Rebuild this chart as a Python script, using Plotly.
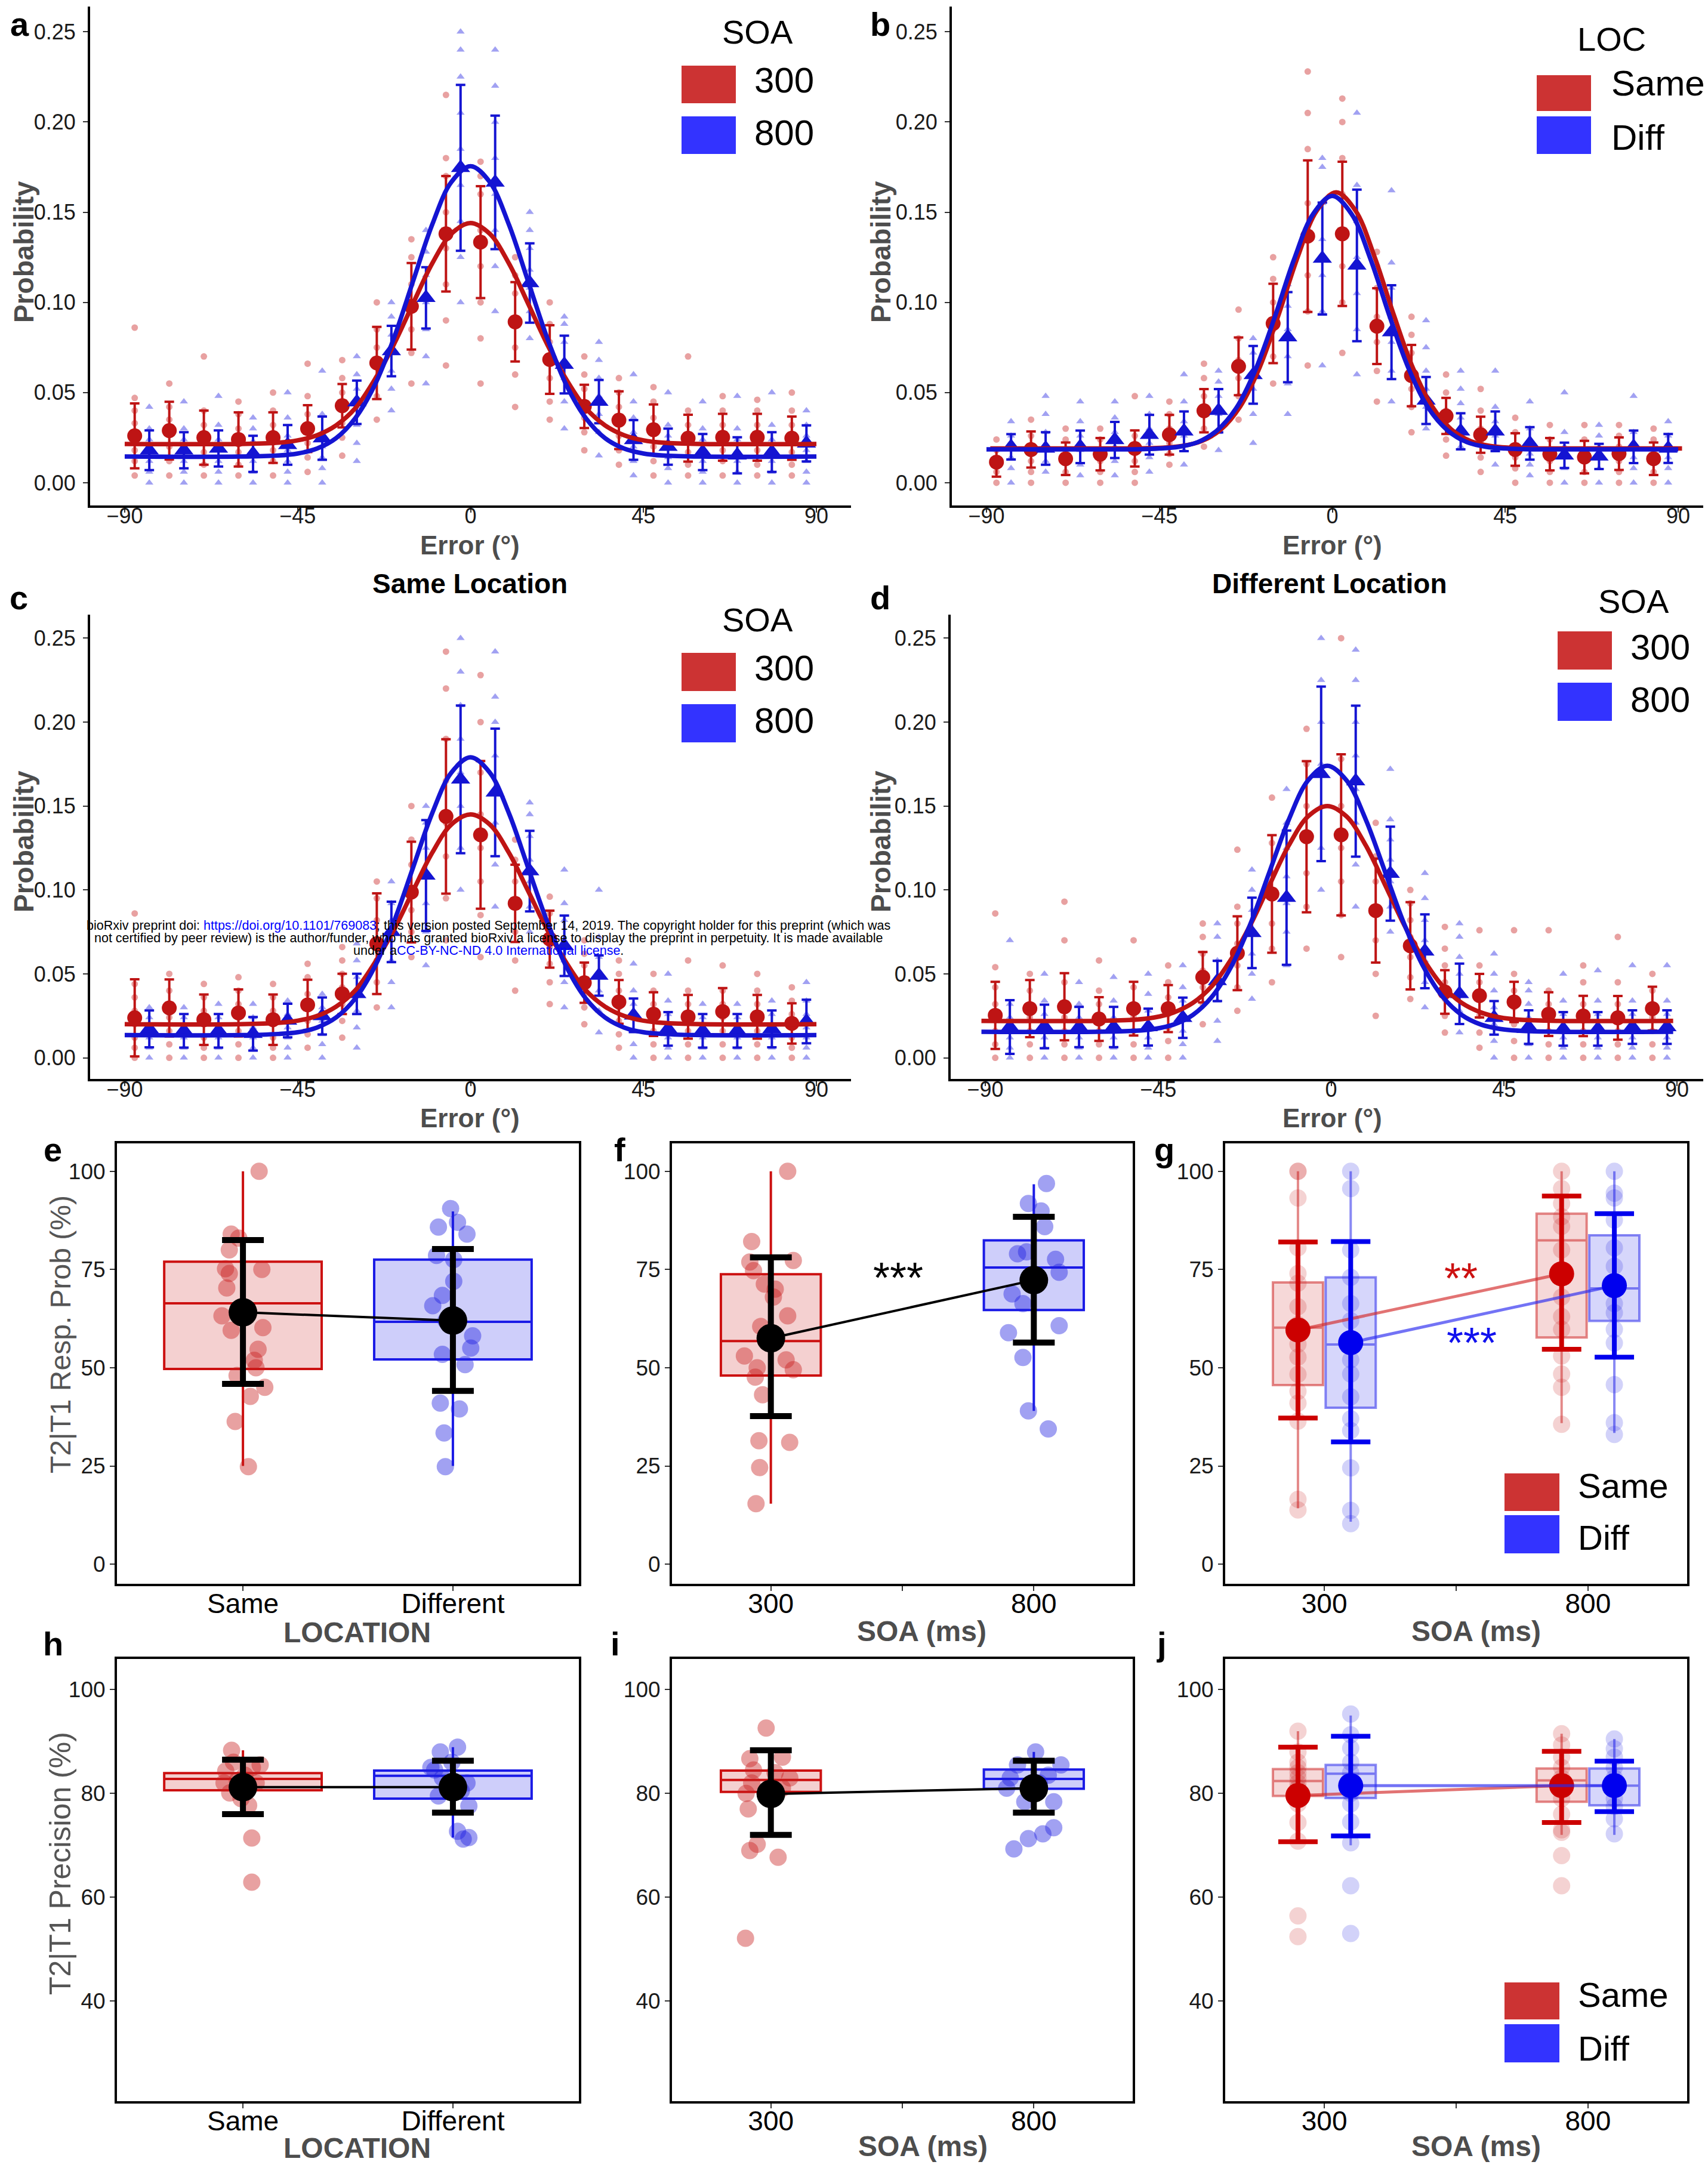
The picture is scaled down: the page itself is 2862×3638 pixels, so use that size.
import plotly.graph_objects as go

W, H = 2862, 3638
FONT = "Liberation Sans, Arial, Helvetica, sans-serif"
NARROW = "Liberation Sans Narrow, Arial Narrow, Liberation Sans, sans-serif"

RED_KEY, BLUE_KEY = "#CC3333", "#3333FF"
RED_LINE, BLUE_LINE = "#BE1414", "#1414D2"
RED_PT, BLUE_PT = "#C81E1E", "#2020E0"
GRAY = "#4D4D4D"

# ====================== panels a-d : error distributions ======================
BIN_CENTERS = [-85.5, -76.5, -67.5, -58.5, -49.5, -40.5, -31.5, -22.5, -13.5, -4.5,
               4.5, 13.5, 22.5, 31.5, 40.5, 49.5, 58.5, 67.5, 76.5, 85.5]
X_TICKS_ERR = [-90, -45, 0, 45, 90]
X_TICKTEXT_ERR = ["−90", "−45", "0", "45", "90"]
Y_TICKS_PROB = [0, 0.05, 0.10, 0.15, 0.20, 0.25]
Y_TICKTEXT_PROB = ["0.00", "0.05", "0.10", "0.15", "0.20", "0.25"]
CURVE_X = [-90, -60, -50, -45, -40, -35, -30, -25, -20, -15, -10, -5, 0,
           5, 10, 15, 20, 25, 30, 35, 40, 45, 50, 60, 90]

A_RED_CURVE = [0.0215, 0.0215, 0.0222, 0.0235, 0.0263, 0.0318, 0.0413, 0.0570, 0.0765, 0.0992, 0.1215, 0.1380, 0.1440,
               0.1380, 0.1215, 0.0992, 0.0765, 0.0570, 0.0413, 0.0318, 0.0263, 0.0235, 0.0222, 0.0215, 0.0215]
A_BLUE_CURVE = [0.0145, 0.0145, 0.0151, 0.0162, 0.0189, 0.0247, 0.0358, 0.0539, 0.0799, 0.1115, 0.1430, 0.1667, 0.1755,
                0.1667, 0.1430, 0.1115, 0.0799, 0.0539, 0.0358, 0.0247, 0.0189, 0.0162, 0.0151, 0.0145, 0.0145]
B_RED_CURVE = [0.0190, 0.0190, 0.0191, 0.0194, 0.0204, 0.0231, 0.0295, 0.0422, 0.0635, 0.0930, 0.1252, 0.1510, 0.1610,
               0.1510, 0.1252, 0.0930, 0.0635, 0.0422, 0.0295, 0.0231, 0.0204, 0.0194, 0.0191, 0.0190, 0.0190]
B_BLUE_CURVE = [0.0185, 0.0185, 0.0186, 0.0190, 0.0199, 0.0225, 0.0290, 0.0414, 0.0626, 0.0917, 0.1236, 0.1490, 0.1590,
                0.1490, 0.1236, 0.0917, 0.0626, 0.0414, 0.0290, 0.0225, 0.0199, 0.0190, 0.0186, 0.0185, 0.0185]
C_RED_CURVE = [0.0200, 0.0200, 0.0208, 0.0221, 0.0249, 0.0305, 0.0402, 0.0564, 0.0760, 0.0993, 0.1221, 0.1390, 0.1450,
               0.1390, 0.1221, 0.0993, 0.0760, 0.0564, 0.0402, 0.0305, 0.0249, 0.0221, 0.0208, 0.0200, 0.0200]
C_BLUE_CURVE = [0.0135, 0.0135, 0.0142, 0.0152, 0.0180, 0.0240, 0.0353, 0.0540, 0.0807, 0.1131, 0.1456, 0.1699, 0.1790,
                0.1699, 0.1456, 0.1131, 0.0807, 0.0540, 0.0353, 0.0240, 0.0180, 0.0152, 0.0142, 0.0135, 0.0135]
D_RED_CURVE = [0.0220, 0.0220, 0.0227, 0.0240, 0.0270, 0.0327, 0.0428, 0.0588, 0.0792, 0.1032, 0.1266, 0.1438, 0.1500,
               0.1438, 0.1266, 0.1032, 0.0792, 0.0588, 0.0428, 0.0327, 0.0270, 0.0240, 0.0227, 0.0220, 0.0220]
D_BLUE_CURVE = [0.0155, 0.0155, 0.0161, 0.0172, 0.0198, 0.0255, 0.0364, 0.0543, 0.0798, 0.1110, 0.1420, 0.1653, 0.1740,
                0.1653, 0.1420, 0.1110, 0.0798, 0.0543, 0.0364, 0.0255, 0.0198, 0.0172, 0.0161, 0.0155, 0.0155]
# location of each fitted curve's peak (degrees)
A_PEAK = [0.0, 0.0]
B_PEAK = [1.0, 0.0]
C_PEAK = [0.0, 0.0]
D_PEAK = [-1.0, -1.0]

A_RED_MEAN = [0.0260, 0.0289, 0.0250, 0.0240, 0.0250, 0.0300, 0.0427, 0.0664, 0.0978, 0.1380,
              0.1334, 0.0892, 0.0683, 0.0423, 0.0347, 0.0294, 0.0247, 0.0252, 0.0252, 0.0247]
A_BLUE_MEAN = [0.0180, 0.0180, 0.0190, 0.0160, 0.0210, 0.0247, 0.0446, 0.0730, 0.1025, 0.1746,
               0.1665, 0.1107, 0.0655, 0.0450, 0.0237, 0.0200, 0.0170, 0.0152, 0.0170, 0.0218]
B_RED_MEAN = [0.0114, 0.0184, 0.0133, 0.0158, 0.0190, 0.0266, 0.0399, 0.0645, 0.0883, 0.1367,
              0.1380, 0.0868, 0.0594, 0.0370, 0.0266, 0.0184, 0.0158, 0.0142, 0.0161, 0.0133]
B_BLUE_MEAN = [0.0199, 0.0190, 0.0199, 0.0237, 0.0266, 0.0285, 0.0399, 0.0598, 0.0807, 0.1243,
               0.1205, 0.0835, 0.0456, 0.0285, 0.0285, 0.0218, 0.0152, 0.0146, 0.0199, 0.0190]
C_RED_MEAN = [0.0238, 0.0297, 0.0227, 0.0267, 0.0227, 0.0315, 0.0381, 0.0680, 0.0987, 0.1438,
              0.1328, 0.0920, 0.0707, 0.0447, 0.0333, 0.0260, 0.0244, 0.0275, 0.0244, 0.0205]
C_BLUE_MEAN = [0.0172, 0.0161, 0.0161, 0.0143, 0.0222, 0.0249, 0.0381, 0.0750, 0.1086, 0.1659,
               0.1581, 0.1112, 0.0667, 0.0490, 0.0253, 0.0172, 0.0161, 0.0161, 0.0172, 0.0216]
D_RED_MEAN = [0.0253, 0.0293, 0.0304, 0.0231, 0.0293, 0.0293, 0.0480, 0.0623, 0.0976, 0.1317,
              0.1328, 0.0877, 0.0667, 0.0392, 0.0370, 0.0333, 0.0260, 0.0249, 0.0238, 0.0293]
D_BLUE_MEAN = [0.0183, 0.0187, 0.0183, 0.0183, 0.0183, 0.0238, 0.0458, 0.0744, 0.0954, 0.1692,
               0.1648, 0.1097, 0.0634, 0.0381, 0.0238, 0.0183, 0.0172, 0.0172, 0.0183, 0.0183]

# error-bar half widths (thousandths)
A_RED_ERR = [18, 16, 15, 15, 14, 13, 12, 20, 24, 32, 31, 22, 19, 12, 16, 14, 13, 13, 13, 12]
A_BLUE_ERR = [11, 10, 10, 10, 11, 12, 12, 14, 17, 46, 37, 22, 16, 12, 11, 10, 10, 10, 11, 10]
B_RED_ERR = [8, 10, 9, 9, 10, 11, 12, 16, 22, 42, 40, 21, 17, 10, 10, 9, 9, 9, 9, 9]
B_BLUE_ERR = [7, 9, 9, 10, 11, 11, 12, 16, 25, 31, 42, 26, 13, 10, 11, 9, 7, 7, 9, 8]
C_RED_ERR = [23, 17, 15, 14, 15, 15, 12, 30, 30, 46, 44, 23, 17, 12, 13, 13, 13, 14, 13, 12]
C_BLUE_ERR = [11, 10, 10, 10, 10, 11, 12, 18, 33, 44, 38, 24, 18, 12, 10, 10, 10, 10, 11, 13]
D_RED_ERR = [20, 17, 20, 13, 16, 14, 15, 22, 35, 45, 48, 31, 26, 13, 13, 12, 13, 12, 13, 13]
D_BLUE_ERR = [16, 13, 12, 12, 11, 12, 12, 21, 40, 52, 45, 28, 22, 18, 10, 10, 10, 10, 10, 10]

# individual-subject probabilities per bin (thousandths)
A_RED_PTS = ["4 12 18 25 33 40 47 86", "4 12 20 28 35 42 55", "4 10 17 25 32 40 70", "4 10 17 24 30 38 45",
             "4 12 18 25 32 40 50", "6 14 22 30 38 48 66", "15 25 33 42 50 58 68", "35 48 58 66 75 85 100",
             "55 72 85 98 110 125 135", "65 90 110 130 150 170 180 215", "55 80 100 120 140 160 170 178",
             "42 60 75 90 105 115 125", "35 45 58 68 78 88 100", "18 28 36 44 52 60 70", "10 18 26 34 42 50 58",
             "4 12 20 28 36 45 53", "4 10 17 24 32 40 70", "4 12 18 25 32 40 48", "4 10 18 25 32 40 46",
             "4 10 17 24 32 40 50"]
A_BLUE_PTS = ["0 6 12 18 24 30 42", "0 6 12 18 24 30 45", "0 6 12 18 24 32 48", "0 6 12 17 23 30 36",
              "0 6 12 18 26 36 50", "0 8 14 20 28 38 62", "12 22 32 42 52 60 70", "40 52 62 72 82 92 100",
              "55 70 85 100 115 128 140", "100 125 145 165 185 205 225 240 250", "95 120 140 160 180 200 220 240",
              "80 95 108 118 130 140 150", "30 45 58 68 78 88 92", "15 28 38 48 58 68 78", "4 12 20 28 36 45 60",
              "0 8 14 20 26 32 50", "0 6 12 18 24 30 45", "0 6 12 18 24 30 48", "0 6 12 18 24 32 50",
              "0 6 12 18 26 32 40"]
B_RED_PTS = ["0 6 12 18 24", "0 6 12 18 26 35", "0 6 12 18 24 30", "0 6 12 18 24 30", "0 6 12 18 26 48",
             "10 16 22 30 38 45", "20 30 38 48 58 66", "35 48 58 68 80 96", "55 70 85 100 113 125",
             "65 95 115 135 155 185 205 228", "72 100 120 140 160 180 200 213", "45 62 78 92 108 120 128",
             "28 42 52 62 72 82 92", "15 24 32 40 50 60", "6 14 22 30 40 52", "0 8 14 20 28 36",
             "0 6 12 18 24 32", "0 6 12 18 24 32", "0 6 12 20 26 32", "0 6 12 18 24 30"]
B_BLUE_PTS = ["0 8 14 20 26 34", "6 12 20 28 38 48", "4 10 18 26 34 45", "4 12 20 28 36 45", "6 14 22 30 38 48",
              "10 18 26 34 45 60", "18 28 38 48 56 62", "22 38 52 62 72 80", "38 55 70 85 98 110",
              "65 95 115 135 155 175 180", "60 85 105 125 145 165 205", "45 62 78 92 108 122 162",
              "30 42 52 62 75 90", "20 28 36 44 52 62", "10 18 26 34 42 62", "4 10 16 22 30 45",
              "0 8 14 20 28 50", "0 8 14 20 26 32", "0 8 14 20 28 48", "0 8 14 20 26 34"]
C_RED_PTS = ["0 6 12 20 28 36 44 86", "0 8 16 24 32 40 50", "0 6 12 20 28 36 44", "0 8 16 24 32 40 48",
             "0 6 12 20 28 36 44", "6 14 22 30 38 48 56", "12 22 32 42 50 58 66", "30 45 58 70 82 95 105",
             "60 75 88 100 115 130 150", "70 95 120 140 165 190 220 242", "60 85 105 125 145 170 200 228",
             "40 58 75 90 105 118 130", "32 45 56 66 76 86 96", "20 30 38 46 55 62 70", "6 14 22 30 40 50 58",
             "0 8 16 24 32 40 50", "0 8 16 24 32 40 58", "0 8 16 24 32 40 55", "0 8 16 24 32 40 50",
             "0 6 12 18 26 34 42"]
C_BLUE_PTS = ["0 6 12 18 24 30", "0 6 12 18 24 30", "0 6 12 18 24 32", "0 6 12 18 24 32", "0 6 12 18 26 34",
              "0 8 14 22 30 38", "6 18 28 38 48 58 68", "30 45 58 70 82 92 105", "55 75 92 108 125 140 150",
              "100 125 150 170 190 210 230 250", "90 115 140 160 180 200 215 242", "75 90 105 118 132 145 152",
              "30 45 58 70 82 92 112", "15 28 40 50 60 72 100", "0 8 16 24 32 40 56", "0 6 12 18 26 34 50",
              "0 6 12 18 24 32", "0 6 12 18 24 32", "0 6 12 18 26 34", "0 6 12 18 26 34 45"]
D_RED_PTS = ["0 8 16 24 32 42 54 86", "0 8 16 24 32 40 50", "0 8 16 24 32 45 70 93", "0 8 16 24 32 40 58",
             "0 8 16 24 32 42 70", "0 10 18 26 36 45 55", "20 32 42 52 62 72 80", "28 42 55 68 80 90 124",
             "45 65 80 95 110 128 155", "65 90 110 130 150 175 196", "60 85 105 125 150 178 250",
             "25 50 70 88 105 120 140", "35 48 60 72 82 92 100", "15 25 35 45 55 65 78", "6 15 25 35 45 55 76",
             "0 10 20 30 40 50 76", "0 8 16 24 32 40 76", "0 8 16 24 32 45 55", "0 8 16 24 32 45 72",
             "0 8 16 24 32 40 50"]
D_BLUE_PTS = ["0 6 12 18 24 32 70", "0 6 12 18 26 34 50", "0 6 12 18 24 32 45", "0 6 12 18 24 34 48",
              "0 6 12 20 28 38 50", "0 8 16 24 34 42 55", "10 22 34 46 58 72 80", "35 50 62 75 88 100 112",
              "55 75 92 108 125 140 160", "100 125 150 175 200 225 250", "90 115 140 160 180 200 225 243",
              "75 90 105 118 130 142 172", "30 45 58 70 82 95 110", "15 28 40 50 60 72 80", "0 10 20 30 40 50 62",
              "0 8 16 24 32 40 45", "0 6 12 18 26 34 50", "0 6 12 18 26 34 52", "0 6 12 18 26 34 55",
              "0 6 12 18 26 34 55"]

# ====================== panels e-j : summary plots ======================
LOC_CATS = ["Same", "Different"]
SOA_LEVELS = [300, 800]
SOA_TICKS = [300, 550, 800]
SOA_TICKTEXT = ["300", "", "800"]

# e : response probability by location
E_Q1, E_MED, E_Q3, E_LO, E_HI = [49.7, 52.1], [66.4, 61.7], [77.0, 77.5], [25.0, 25.0], [100.0, 89.8]
E_MEAN, E_CI_LO, E_CI_HI = [64.1, 62.0], [45.9, 44.1], [82.5, 80.2]
E_SAME_VALS = [100, 84, 83, 80, 75.2, 75, 74, 70.3, 63.2, 60.2, 59.5, 54.7, 51.9, 48, 50, 42.7, 45, 36.3, 24.8]
E_SAME_JIT = [0.077, -0.056, -0.02, -0.065, -0.083, 0.09, -0.065, -0.077, -0.1, 0.095, -0.056, 0.072, 0.054,
              -0.028, 0.062, 0.035, 0.104, -0.037, 0.026]
E_DIFF_VALS = [90.5, 85.8, 84, 87, 78.6, 77.5, 72, 68.4, 65.8, 62, 58.1, 55, 53.4, 50.8, 41, 39.5, 33.4, 24.8]
E_DIFF_JIT = [-0.011, -0.069, 0.067, 0.022, -0.078, 0.004, 0.004, -0.05, -0.096, -0.033, 0.094, 0.085, -0.05,
              0.058, -0.06, 0.031, -0.042, -0.036]

# f : response probability by SOA
F_Q1, F_MED, F_Q3, F_LO, F_HI = [48.0, 64.7], [56.8, 75.5], [73.8, 82.4], [15.4, 39.0], [100.0, 96.7]
F_MEAN, F_CI_LO, F_CI_HI = [57.5, 72.3], [37.7, 56.4], [78.1, 88.4]
F_300_VALS = [100, 82.1, 76.9, 77.3, 74.7, 71.3, 70, 68, 63.2, 60.5, 53, 52, 50, 49.5, 47.6, 43.1, 31.4, 31, 24.6, 15.4]
F_300_JIT = [32, -36.5, -40, 42.7, -33, -12.4, 8.3, 4.8, 32, -19.3, -50.3, 29, -26, 42.7, -29.6, -15.8, -22.7, 35.8,
             -21.3, -28.2]
F_800_VALS = [96.9, 91.8, 89.9, 85.9, 79.0, 79.5, 77.6, 74.3, 68.8, 66.3, 58.9, 60.7, 52.6, 39.0, 34.4]
F_800_JIT = [24, -10.3, 13.8, 20.7, -31, -13.8, 41.3, 48.2, -41.3, -20.7, -48.2, 48.2, -20.7, -10.3, 27.5]

# g : response probability by SOA x location
G_SAME_Q1, G_SAME_MED, G_SAME_Q3 = [45.6, 57.7], [60.2, 82.4], [71.7, 89.2]
G_SAME_LO, G_SAME_HI = [14.2, 35.9], [100.0, 100.0]
G_DIFF_Q1, G_DIFF_MED, G_DIFF_Q3 = [39.8, 61.9], [55.9, 70.2], [73.0, 83.7]
G_DIFF_LO, G_DIFF_HI = [10.8, 33.4], [100.0, 100.0]
G_SAME_MEAN, G_SAME_CI_LO, G_SAME_CI_HI = [59.6, 73.9], [37.2, 54.7], [82.0, 93.7]
G_DIFF_MEAN, G_DIFF_CI_LO, G_DIFF_CI_HI = [56.4, 70.9], [31.1, 52.7], [82.1, 89.2]
G_SAME_300_VALS = [100, 100, 93.2, 80.5, 74, 71.5, 65.5, 61, 56, 52.7, 48.3, 44, 41, 36.4, 16.5, 13.8]
G_DIFF_300_VALS = [100, 95.6, 80, 73, 66.3, 62, 57, 52, 48.4, 42.6, 37, 34, 24.5, 13.7, 10.3]
G_SAME_800_VALS = [100, 95.6, 91.8, 88.4, 86, 80, 74, 68, 63, 59.8, 53, 48.4, 45, 35.6]
G_DIFF_800_VALS = [100, 94.4, 93.2, 87.6, 80.5, 75.8, 70.7, 66.3, 64, 59.8, 56.3, 45.7, 36, 33]

# h : precision by location
H_Q1, H_MED, H_Q3, H_LO, H_HI = [80.6, 79.0], [82.8, 83.4], [83.9, 84.4], [76.5, 71.5], [88.3, 88.9]
H_MEAN, H_CI_LO, H_CI_HI = [81.2, 81.2], [76.0, 76.3], [86.5, 86.3]
H_SAME_VALS = [88.3, 86, 85, 84.3, 83.5, 85.5, 82.5, 80.1, 79, 77.7, 71.4, 62.9, 82, 82]
H_SAME_JIT = [-0.054, -0.045, 0.045, -0.082, 0.009, 0.082, -0.027, -0.063, -0.009, 0.027, 0.042, 0.042, 0.063, -0.09]
H_DIFF_VALS = [88.9, 88, 85, 83, 80.5, 79.5, 77.6, 72.7, 71.5, 71.2, 84.5, 86, 82]
H_DIFF_JIT = [0.022, -0.06, -0.105, -0.05, 0.04, -0.069, 0.076, 0.022, 0.076, 0.049, -0.087, -0.005, 0.067]

# i : precision by SOA
I_Q1, I_MED, I_Q3, I_LO, I_HI = [80.3, 80.9], [82.6, 82.8], [84.4, 84.6], [77.0, 76.0], [88.3, 88.0]
I_MEAN, I_CI_LO, I_CI_HI = [79.9, 81.0], [72.0, 76.3], [88.3, 86.3]
I_300_VALS = [92.6, 86.7, 87, 84.5, 84, 82, 80, 77, 70.2, 69, 67.7, 52.1, 83, 81]
I_300_JIT = [-9, -40, 22, -33, 8, -36.5, -47, -43, -26, -40, 13.8, -48.2, 36, 22]
I_800_VALS = [88, 85.5, 85.5, 83, 83.5, 78.4, 78.4, 73.4, 72.2, 71.3, 69.3, 82, 81]
I_800_JIT = [3.4, -31, 51.6, -44.8, 27.5, -17.2, 37.9, 37.9, 17.2, -10.3, -37.9, 10.3, -51.6]

# j : precision by SOA x location
J_SAME_Q1, J_SAME_MED, J_SAME_Q3 = [79.5, 78.4], [82.4, 82.5], [84.7, 84.8]
J_SAME_LO, J_SAME_HI = [74.0, 72.0], [92.0, 91.5]
J_DIFF_Q1, J_DIFF_MED, J_DIFF_Q3 = [79.1, 77.7], [83.8, 81.5], [85.5, 84.8]
J_DIFF_LO, J_DIFF_HI = [70.0, 72.0], [95.0, 90.5]
J_SAME_MEAN, J_SAME_CI_LO, J_SAME_CI_HI = [79.6, 81.5], [70.7, 74.4], [88.9, 88.1]
J_DIFF_MEAN, J_DIFF_CI_LO, J_DIFF_CI_HI = [81.5, 81.5], [71.8, 76.5], [91.0, 86.2]
J_SAME_300_VALS = [92, 88, 86, 85, 84, 83, 82, 81, 80, 78, 74.4, 70.8, 56.4, 52.4]
J_DIFF_300_VALS = [95.3, 91.3, 88.7, 86, 84, 82, 80, 78, 74.5, 70.5, 62.2, 53.0]
J_SAME_800_VALS = [91.5, 89.3, 87, 85, 83, 81, 79, 76, 73, 72.5, 68.0, 62.2]
J_DIFF_800_VALS = [90.5, 88.6, 87, 85, 83, 81, 79, 77.5, 75.1, 72.2]

# ====================== layout geometry (pixels) ======================
PANELS = {
    1: ((143, 1418), (3, 839)),
    2: ((1587, 2862), (3, 839)),
    3: ((143, 1418), (1022, 1800)),
    4: ((1585, 2860), (1022, 1800)),
    5: ((188, 962), (1908, 2646)),
    6: ((1118, 1890), (1908, 2646)),
    7: ((2045, 2819), (1908, 2646)),
    8: ((188, 962), (2772, 3513)),
    9: ((1118, 1890), (2772, 3513)),
    10: ((2045, 2819), (2772, 3513)),
}
ERR_DODGE = 1.9
G_DODGE = 50

fig = go.Figure()


def refs(n):
    return ("x" if n == 1 else f"x{n}"), ("y" if n == 1 else f"y{n}")


def parse(s):
    return [float(v) / 1000.0 for v in s.split()]


def error_panel(n, red_pts, blue_pts, red_mean, blue_mean, red_err, blue_err,
                red_curve, blue_curve, peaks):
    xr, yr = refs(n)
    for pts, off, col, sym, sz in ((red_pts, -ERR_DODGE, RED_PT, "circle", 11),
                                   (blue_pts, ERR_DODGE, BLUE_PT, "triangle-up", 12)):
        xs, ys = [], []
        for c, s in zip(BIN_CENTERS, pts):
            vals = parse(s)
            xs += [c + off] * len(vals)
            ys += vals
        fig.add_trace(go.Scatter(x=xs, y=ys, mode="markers", xaxis=xr, yaxis=yr,
                                 marker=dict(symbol=sym, size=sz, color=col, opacity=0.42,
                                             line=dict(width=0)),
                                 hoverinfo="skip"))
    for mean, err, off, col, sym, sz in ((red_mean, red_err, -ERR_DODGE, RED_LINE, "circle", 25),
                                         (blue_mean, blue_err, ERR_DODGE, BLUE_LINE, "triangle-up", 28)):
        fig.add_trace(go.Scatter(x=[c + off for c in BIN_CENTERS], y=mean, mode="markers",
                                 xaxis=xr, yaxis=yr,
                                 marker=dict(symbol=sym, size=sz, color=col, line=dict(width=0)),
                                 error_y=dict(type="data", array=[e / 1000.0 for e in err],
                                              thickness=4, width=8, color=col),
                                 hoverinfo="skip"))
    for curve, pk, col in ((red_curve, peaks[0], RED_LINE), (blue_curve, peaks[1], BLUE_LINE)):
        fig.add_trace(go.Scatter(x=[v + pk for v in CURVE_X], y=curve, mode="lines",
                                 xaxis=xr, yaxis=yr,
                                 line=dict(color=col, width=7.5, shape="spline", smoothing=1.0),
                                 hoverinfo="skip"))


error_panel(1, A_RED_PTS, A_BLUE_PTS, A_RED_MEAN, A_BLUE_MEAN, A_RED_ERR, A_BLUE_ERR,
            A_RED_CURVE, A_BLUE_CURVE, A_PEAK)
error_panel(2, B_RED_PTS, B_BLUE_PTS, B_RED_MEAN, B_BLUE_MEAN, B_RED_ERR, B_BLUE_ERR,
            B_RED_CURVE, B_BLUE_CURVE, B_PEAK)
error_panel(3, C_RED_PTS, C_BLUE_PTS, C_RED_MEAN, C_BLUE_MEAN, C_RED_ERR, C_BLUE_ERR,
            C_RED_CURVE, C_BLUE_CURVE, C_PEAK)
error_panel(4, D_RED_PTS, D_BLUE_PTS, D_RED_MEAN, D_BLUE_MEAN, D_RED_ERR, D_BLUE_ERR,
            D_RED_CURVE, D_BLUE_CURVE, D_PEAK)


def add_box(n, x, q1, med, q3, lo, hi, width, fill, line):
    xr, yr = refs(n)
    fig.add_trace(go.Box(x=[x], q1=[q1], median=[med], q3=[q3], lowerfence=[lo], upperfence=[hi],
                         width=width, fillcolor=fill, line=dict(color=line, width=4),
                         whiskerwidth=0, boxpoints=False, orientation="v",
                         xaxis=xr, yaxis=yr, hoverinfo="skip"))


def add_points(n, xs, ys, col, opacity):
    xr, yr = refs(n)
    fig.add_trace(go.Scatter(x=xs, y=ys, mode="markers", xaxis=xr, yaxis=yr,
                             marker=dict(size=29, color=col, opacity=opacity, line=dict(width=0)),
                             hoverinfo="skip"))


def add_means(n, xs, mean, lo, hi, col, line_col, msize, ethick, ewidth, lwidth):
    xr, yr = refs(n)
    fig.add_trace(go.Scatter(x=xs, y=mean, mode="lines", xaxis=xr, yaxis=yr,
                             line=dict(color=line_col, width=lwidth), hoverinfo="skip"))
    fig.add_trace(go.Scatter(x=xs, y=mean, mode="markers", xaxis=xr, yaxis=yr,
                             marker=dict(size=msize, color=col, line=dict(width=0)),
                             error_y=dict(type="data", symmetric=False,
                                          array=[h - m for h, m in zip(hi, mean)],
                                          arrayminus=[m - l for m, l in zip(mean, lo)],
                                          thickness=ethick, width=ewidth, color=col),
                             hoverinfo="skip"))


RED_FILL, BLUE_FILL = "rgba(205,40,40,0.22)", "rgba(50,50,235,0.24)"
RED_EDGE, BLUE_EDGE = "#CC1111", "#1A1AE6"
RED_FILL_G, BLUE_FILL_G = "rgba(205,40,40,0.18)", "rgba(50,50,235,0.2)"
RED_EDGE_G, BLUE_EDGE_G = "rgba(205,40,40,0.55)", "rgba(40,40,235,0.55)"
RED_MEAN_G, BLUE_MEAN_G = "#CC0000", "#0000EE"


def two_group_panel(n, xpos, boxw, q1, med, q3, lo, hi, vals_list, jit_list, mean, clo, chi):
    for k, (fill, edge) in enumerate(((RED_FILL, RED_EDGE), (BLUE_FILL, BLUE_EDGE))):
        add_box(n, xpos[k], q1[k], med[k], q3[k], lo[k], hi[k], boxw, fill, edge)
    for k, col in enumerate((RED_PT, BLUE_PT)):
        add_points(n, [xpos[k] + j for j in jit_list[k]], vals_list[k], col, 0.42)
    add_means(n, xpos, mean, clo, chi, "black", "black", 48, 10, 35, 4)


def four_group_panel(n, same_box, diff_box, same_vals, diff_vals, same_ci, diff_ci):
    for grp, off, fill, edge in ((same_box, -G_DODGE, RED_FILL_G, RED_EDGE_G),
                                 (diff_box, G_DODGE, BLUE_FILL_G, BLUE_EDGE_G)):
        for k, s in enumerate(SOA_LEVELS):
            add_box(n, s + off, grp[0][k], grp[1][k], grp[2][k], grp[3][k], grp[4][k], 95, fill, edge)
    for vals, off, col in ((same_vals, -G_DODGE, RED_PT), (diff_vals, G_DODGE, BLUE_PT)):
        for k, s in enumerate(SOA_LEVELS):
            add_points(n, [s + off] * len(vals[k]), vals[k], col, 0.2)
    for ci, off, col, lc in ((same_ci, -G_DODGE, RED_MEAN_G, "rgba(210,40,40,0.65)"),
                             (diff_ci, G_DODGE, BLUE_MEAN_G, "rgba(40,40,240,0.65)")):
        add_means(n, [s + off for s in SOA_LEVELS], ci[0], ci[1], ci[2], col, lc, 42, 8, 33, 5)


two_group_panel(5, [1, 2], 0.75, E_Q1, E_MED, E_Q3, E_LO, E_HI,
                [E_SAME_VALS, E_DIFF_VALS], [E_SAME_JIT, E_DIFF_JIT], E_MEAN, E_CI_LO, E_CI_HI)
two_group_panel(6, SOA_LEVELS, 190, F_Q1, F_MED, F_Q3, F_LO, F_HI,
                [F_300_VALS, F_800_VALS], [F_300_JIT, F_800_JIT], F_MEAN, F_CI_LO, F_CI_HI)
four_group_panel(7,
                 (G_SAME_Q1, G_SAME_MED, G_SAME_Q3, G_SAME_LO, G_SAME_HI),
                 (G_DIFF_Q1, G_DIFF_MED, G_DIFF_Q3, G_DIFF_LO, G_DIFF_HI),
                 [G_SAME_300_VALS, G_SAME_800_VALS], [G_DIFF_300_VALS, G_DIFF_800_VALS],
                 (G_SAME_MEAN, G_SAME_CI_LO, G_SAME_CI_HI), (G_DIFF_MEAN, G_DIFF_CI_LO, G_DIFF_CI_HI))
two_group_panel(8, [1, 2], 0.75, H_Q1, H_MED, H_Q3, H_LO, H_HI,
                [H_SAME_VALS, H_DIFF_VALS], [H_SAME_JIT, H_DIFF_JIT], H_MEAN, H_CI_LO, H_CI_HI)
two_group_panel(9, SOA_LEVELS, 190, I_Q1, I_MED, I_Q3, I_LO, I_HI,
                [I_300_VALS, I_800_VALS], [I_300_JIT, I_800_JIT], I_MEAN, I_CI_LO, I_CI_HI)
four_group_panel(10,
                 (J_SAME_Q1, J_SAME_MED, J_SAME_Q3, J_SAME_LO, J_SAME_HI),
                 (J_DIFF_Q1, J_DIFF_MED, J_DIFF_Q3, J_DIFF_LO, J_DIFF_HI),
                 [J_SAME_300_VALS, J_SAME_800_VALS], [J_DIFF_300_VALS, J_DIFF_800_VALS],
                 (J_SAME_MEAN, J_SAME_CI_LO, J_SAME_CI_HI), (J_DIFF_MEAN, J_DIFF_CI_LO, J_DIFF_CI_HI))

# ====================== axes ======================
layout = dict(width=W, height=H, margin=dict(l=0, r=0, t=0, b=0),
              paper_bgcolor="white", plot_bgcolor="white", showlegend=False,
              font=dict(family=FONT, color="black"), boxmode="overlay")


def ax_common(mirror):
    return dict(showline=True, linecolor="black", linewidth=4, mirror=mirror,
                ticks="outside", ticklen=8, tickwidth=2, tickcolor="#333333",
                showgrid=False, zeroline=False, fixedrange=True)


for n, ((x0, x1), (y0, y1)) in PANELS.items():
    xk = "xaxis" if n == 1 else f"xaxis{n}"
    yk = "yaxis" if n == 1 else f"yaxis{n}"
    xr, yr = refs(n)
    top = n <= 4
    xa = ax_common(not top)
    ya = ax_common(not top)
    xa.update(domain=[x0 / W, x1 / W], anchor=yr)
    ya.update(domain=[1 - y1 / H, 1 - y0 / H], anchor=xr)
    if top:
        xa.update(range=[-99, 99], tickvals=X_TICKS_ERR, ticktext=X_TICKTEXT_ERR,
                  tickfont=dict(size=36, color="#1A1A1A"), ticklabelstandoff=-25)
        ya.update(range=[-0.0126, 0.264], tickvals=Y_TICKS_PROB, ticktext=Y_TICKTEXT_PROB,
                  tickfont=dict(size=36, color="#1A1A1A"), ticklabelstandoff=5)
    else:
        if n in (5, 8):
            xa.update(range=[0.4, 2.6], tickvals=[1, 2], ticktext=LOC_CATS)
        else:
            xa.update(range=[112, 988], tickvals=SOA_TICKS, ticktext=SOA_TICKTEXT)
        xa.update(tickfont=dict(size=46, color="black"), ticklabelstandoff=-18)
        if n <= 7:
            ya.update(range=[-5, 107.1], tickvals=[0, 25, 50, 75, 100])
        else:
            ya.update(range=[20.7, 105.9], tickvals=[40, 60, 80, 100])
        ya.update(tickfont=dict(size=37, color="#1A1A1A"))
    layout[xk] = xa
    layout[yk] = ya

# ====================== annotations & legend keys ======================
ann = []
shapes = []


def text(t, x, y, size, color="black", bold=False, angle=0, xanchor="center", family=FONT, yshift=9):
    ann.append(dict(text=f"<b>{t}</b>" if bold else t, x=x / W, y=1 - y / H, xref="paper", yref="paper",
                    showarrow=False, font=dict(size=size, color=color, family=family), textangle=angle,
                    xanchor=xanchor, yanchor="middle", yshift=yshift))


def key(x0, x1, y0, y1, color):
    shapes.append(dict(type="rect", xref="paper", yref="paper", x0=x0 / W, x1=x1 / W,
                       y0=1 - y1 / H, y1=1 - y0 / H, fillcolor=color, line=dict(width=0), layer="above"))


for lab, x, y in (("a", 25, 42), ("b", 1467, 42), ("c", 23, 1002), ("d", 1467, 1002),
                  ("e", 80, 1927), ("f", 1030, 1927), ("g", 1943, 1927),
                  ("h", 81, 2755), ("i", 1023, 2755), ("j", 1939, 2755)):
    text(lab, x, y, 56, bold=True)

for x, y in ((32, 414), (1468, 414), (32, 1402), (1468, 1402)):
    text("Probability", x, y, 46, GRAY, bold=True, angle=-90, yshift=0)
for x, y in ((780, 915), (2224, 915), (780, 1875), (2224, 1875)):
    text("Error (°)", x, y, 44, GRAY, bold=True)
text("Same Location", 780, 979, 46, bold=True)
text("Different Location", 2220, 979, 46, bold=True)

text("T2|T1 Resp. Prob (%)", 93, 2228, 48, "#555555", angle=-90, yshift=0)
text("T2|T1 Precision (%)", 93, 3115, 50, "#555555", angle=-90, yshift=0)
text("LOCATION", 590, 2736, 48, GRAY, bold=True)
text("LOCATION", 590, 3600, 48, GRAY, bold=True)
for x, y in ((1536, 2734), (2465, 2734), (1538, 3597), (2465, 3597)):
    text("SOA (ms)", x, y, 48, GRAY, bold=True)

# significance stars (data coordinates)
ann.append(dict(text="***", x=542, y=73, xref="x6", yref="y6", showarrow=False,
                font=dict(size=72, color="black", family=FONT), yshift=-1))
ann.append(dict(text="**", x=559, y=74, xref="x7", yref="y7", showarrow=False,
                font=dict(size=72, color="#CC1111", family=FONT), yshift=-8))
ann.append(dict(text="***", x=579, y=57, xref="x7", yref="y7", showarrow=False,
                font=dict(size=72, color="#1111EE", family=FONT), yshift=-4))

# legends
LEG = 12
text("SOA", 1261, 58, 56, yshift=LEG)
key(1134, 1225, 102, 165, RED_KEY); key(1134, 1225, 187, 250, BLUE_KEY)
text("300", 1254, 138, 60, xanchor="left", yshift=LEG); text("800", 1254, 227, 60, xanchor="left", yshift=LEG)

text("LOC", 2692, 69, 56, yshift=LEG)
key(2567, 2658, 118, 178, RED_KEY); key(2567, 2658, 187, 250, BLUE_KEY)
text("Same", 2690, 143, 60, xanchor="left", yshift=LEG); text("Diff", 2690, 235, 60, xanchor="left", yshift=LEG)

text("SOA", 1261, 1042, 56, yshift=LEG)
key(1134, 1225, 1086, 1150, RED_KEY); key(1134, 1225, 1172, 1236, BLUE_KEY)
text("300", 1254, 1123, 60, xanchor="left", yshift=LEG); text("800", 1254, 1211, 60, xanchor="left", yshift=LEG)

text("SOA", 2729, 1009, 56, yshift=10)
key(2602, 2693, 1050, 1114, RED_KEY); key(2602, 2693, 1136, 1200, BLUE_KEY)
text("300", 2722, 1086, 60, xanchor="left", yshift=10); text("800", 2722, 1174, 60, xanchor="left", yshift=10)

key(2513, 2605, 2461, 2524, RED_KEY); key(2513, 2605, 2531, 2595, BLUE_KEY)
text("Same", 2634, 2490, 58, xanchor="left"); text("Diff", 2634, 2577, 58, xanchor="left")

key(2513, 2605, 3314, 3376, RED_KEY); key(2513, 2605, 3384, 3448, BLUE_KEY)
text("Same", 2634, 3343, 58, xanchor="left"); text("Diff", 2634, 3433, 58, xanchor="left")

# preprint watermark
LINK = "#0000FF"
text('bioRxiv preprint doi: <span style="color:' + LINK + '">https://doi.org/10.1101/769083</span>; '
     'this version posted September 14, 2019. The copyright holder for this preprint (which was',
     810, 1552, 21.5, family=NARROW)
text("not certified by peer review) is the author/funder, who has granted bioRxiv a license to display "
     "the preprint in perpetuity. It is made available", 810, 1573, 21.5, family=NARROW)
text('under a<span style="color:' + LINK + '">CC-BY-NC-ND 4.0 International license</span>.',
     810, 1594, 21.5, family=NARROW)

layout["annotations"] = ann
layout["shapes"] = shapes
fig.update_layout(**layout)
fig.write_html("out.html")
